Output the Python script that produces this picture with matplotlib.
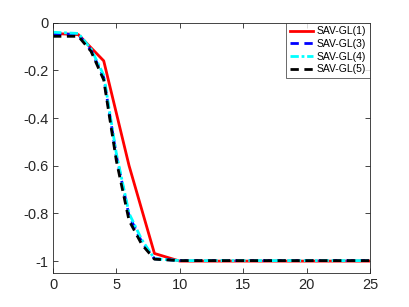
import matplotlib
matplotlib.use("Agg")
import matplotlib.pyplot as plt

plt.rcParams['font.family'] = ['Liberation Sans', 'DejaVu Sans']
plt.rcParams['axes.unicode_minus'] = False

# time steps and energies
x_red = [0, 2, 4, 6, 8, 10, 25]
y_red = [-0.045, -0.05, -0.16, -0.6, -0.968, -1.0, -1.0]

x_dash = [0, 2, 3, 4, 5, 6, 7, 8, 10, 25]
y_gl3 = [-0.045, -0.05, -0.115, -0.23, -0.56, -0.81, -0.92, -0.99, -0.998, -0.998]
y_gl4 = [-0.04, -0.045, -0.11, -0.22, -0.55, -0.80, -0.91, -0.99, -0.998, -0.998]
y_gl5 = [-0.057, -0.057, -0.12, -0.24, -0.58, -0.83, -0.93, -0.992, -0.998, -0.998]

labels = ['SAV-GL(1)', 'SAV-GL(3)', 'SAV-GL(4)', 'SAV-GL(5)']

fig = plt.figure(figsize=(4.09, 3.07), dpi=100)
ax = fig.add_axes([0.1296, 0.1107, 0.775, 0.8153])

ax.plot(x_red, y_red, color='red', lw=2, label=labels[0])
ax.plot(x_dash, y_gl3, color='blue', lw=2, ls=(0, (3, 2)), label=labels[1])
ax.plot(x_dash, y_gl4, color='cyan', lw=2, ls=(0, (3, 1, 1, 1)), label=labels[2])
ax.plot(x_dash, y_gl5, color='black', lw=2, ls=(0, (3, 2)), label=labels[3])

ax.set_xlim(0, 25)
ax.set_ylim(-1.05, 0)
ax.set_xticks([0, 5, 10, 15, 20, 25])
ax.set_yticks([-1, -0.8, -0.6, -0.4, -0.2, 0])
ax.set_yticklabels(['-1', '-0.8', '-0.6', '-0.4', '-0.2', '0'])

gray = (0.15, 0.15, 0.15)
for s in ax.spines.values():
    s.set_color(gray)
    s.set_linewidth(0.6)
ax.tick_params(direction='in', top=True, right=True, colors=gray,
               labelsize=10.5, length=3.5, width=0.6)

leg = ax.legend(loc='upper right', fontsize=7.5, fancybox=False,
                borderaxespad=0, handlelength=2.2, labelspacing=0.25,
                borderpad=0.35, handletextpad=0.4)
leg.get_frame().set_edgecolor(gray)
leg.get_frame().set_linewidth(0.6)

fig.savefig('out.png', dpi=100)
